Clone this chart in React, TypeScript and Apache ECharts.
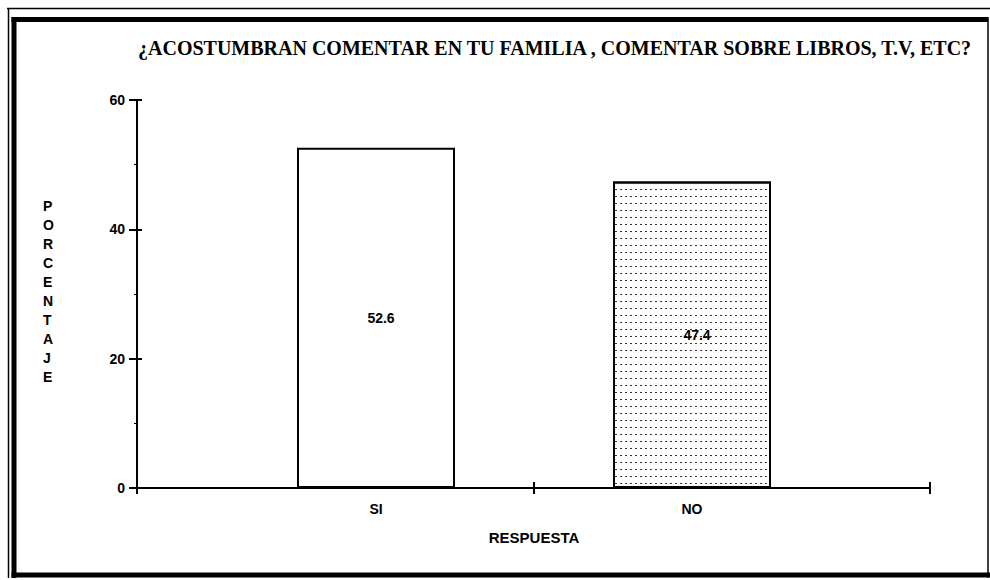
import React, { useEffect, useRef } from "react";
import * as echarts from "echarts";

const titleText = "¿ACOSTUMBRAN COMENTAR EN TU FAMILIA , COMENTAR SOBRE LIBROS, T.V, ETC?";
const categories = ["SI", "NO"];
const values = [52.6, 47.4];
const yTicks = [0, 20, 40, 60];
const xName = "RESPUESTA";
const yName = "PORCENTAJE";

export default function App() {
  const ref = useRef<HTMLDivElement>(null);
  useEffect(() => {
    const chart = echarts.init(ref.current!, null, { renderer: "svg" });
    const yMin = yTicks[0];
    const yMax = yTicks[yTicks.length - 1];
    const interval = yTicks[1] - yTicks[0];
    const font = "'Liberation Sans', Arial, sans-serif";
    const grid1 = { left: 137, right: 60, top: 100, bottom: 92 };
    const grid2 = { left: 218, width: 632, top: 100, bottom: 92 };
    chart.setOption({
      animation: false,
      backgroundColor: "#fff",
      title: {
        text: titleText,
        left: 133,
        top: 33,
        textStyle: {
          fontFamily: "'Liberation Serif', 'Times New Roman', serif",
          fontWeight: "bold",
          fontSize: 20,
          color: "#000",
        },
      },
      grid: [grid1, grid2],
      xAxis: [
        {
          gridIndex: 0,
          type: "category",
          data: categories,
          boundaryGap: true,
          axisLine: { lineStyle: { color: "#000", width: 2 } },
          axisTick: { show: true, length: 6, lineStyle: { color: "#000", width: 2 } },
          axisLabel: { show: false },
          splitLine: { show: false },
        },
        {
          gridIndex: 0,
          type: "category",
          data: categories,
          boundaryGap: true,
          position: "bottom",
          axisLine: { show: false },
          axisTick: { show: true, inside: true, length: 6, lineStyle: { color: "#000", width: 2 } },
          axisLabel: { show: false },
          splitLine: { show: false },
        },
        {
          gridIndex: 1,
          type: "category",
          data: categories,
          axisLine: { show: false },
          axisTick: { show: false },
          axisLabel: {
            margin: 14,
            fontFamily: font,
            fontSize: 14,
            fontWeight: "bold",
            color: "#000",
          },
          name: xName,
          nameLocation: "middle",
          nameGap: 42,
          nameTextStyle: {
            fontFamily: font,
            fontSize: 15,
            fontWeight: "bold",
            color: "#000",
          },
        },
      ],
      yAxis: [
        {
          gridIndex: 0,
          type: "value",
          min: yMin,
          max: yMax,
          interval,
          axisLine: { show: true, lineStyle: { color: "#000", width: 2 } },
          axisTick: { show: true, length: 8, lineStyle: { color: "#000", width: 2 } },
          minorTick: { show: true, splitNumber: 2, length: 3, lineStyle: { color: "#000", width: 1 } },
          axisLabel: {
            margin: 12,
            fontFamily: font,
            fontSize: 14,
            fontWeight: "bold",
            color: "#000",
          },
          splitLine: { show: false },
        },
        {
          gridIndex: 0,
          type: "value",
          min: yMin,
          max: yMax,
          interval,
          position: "left",
          axisLine: { show: false },
          axisTick: { show: true, inside: true, length: 5, lineStyle: { color: "#000", width: 2 } },
          axisLabel: { show: false },
          splitLine: { show: false },
        },
        {
          gridIndex: 1,
          type: "value",
          min: yMin,
          max: yMax,
          interval,
          show: false,
        },
      ],
      graphic: [
        {
          type: "text",
          left: 43,
          top: 196,
          style: {
            text: yName.split("").join("\n"),
            lineHeight: 19,
            fontFamily: font,
            fontSize: 14,
            fontWeight: "bold",
            fill: "#000",
            align: "center",
          },
        },
        { type: "line", shape: { x1: 7, y1: 8.5, x2: 990, y2: 8.5 }, style: { stroke: "#000", lineWidth: 1.5 } },
        { type: "line", shape: { x1: 8.5, y1: 8, x2: 8.5, y2: 578 }, style: { stroke: "#000", lineWidth: 1.5 } },
        { type: "line", shape: { x1: 11.5, y1: 19.5, x2: 988, y2: 19.5 }, style: { stroke: "#000", lineWidth: 5 } },
        { type: "line", shape: { x1: 14, y1: 17, x2: 14, y2: 578 }, style: { stroke: "#000", lineWidth: 5 } },
        { type: "line", shape: { x1: 11.5, y1: 575, x2: 990, y2: 575 }, style: { stroke: "#000", lineWidth: 5 } },
        { type: "line", shape: { x1: 988, y1: 17, x2: 988, y2: 578 }, style: { stroke: "#000", lineWidth: 1.5 } },
      ],
      series: [
        {
          type: "bar",
          xAxisIndex: 0,
          yAxisIndex: 0,
          data: [],
        },
        {
          type: "bar",
          xAxisIndex: 2,
          yAxisIndex: 2,
          barWidth: 158,
          data: values.map((v, i) => ({
            value: v,
            itemStyle:
              i === 0
                ? { color: "#fff", borderColor: "#000", borderWidth: 2 }
                : {
                    color: "#fff",
                    borderColor: "#000",
                    borderWidth: 2,
                    decal: {
                      symbol: "rect",
                      symbolSize: 1,
                      dashArrayX: [1.5, 3],
                      dashArrayY: [1, 6],
                      rotation: 0,
                      color: "#333",
                      backgroundColor: "#fff",
                    },
                  },
          })),
          label: {
            show: true,
            position: "inside",
            offset: [5, 0],
            fontFamily: font,
            fontSize: 14,
            fontWeight: "bold",
            color: "#000",
          },
        },
      ],
    });
    return () => chart.dispose();
  }, []);
  return <div ref={ref} style={{ width: 990, height: 580, position: "absolute", left: 0, top: 0 }} />;
}
